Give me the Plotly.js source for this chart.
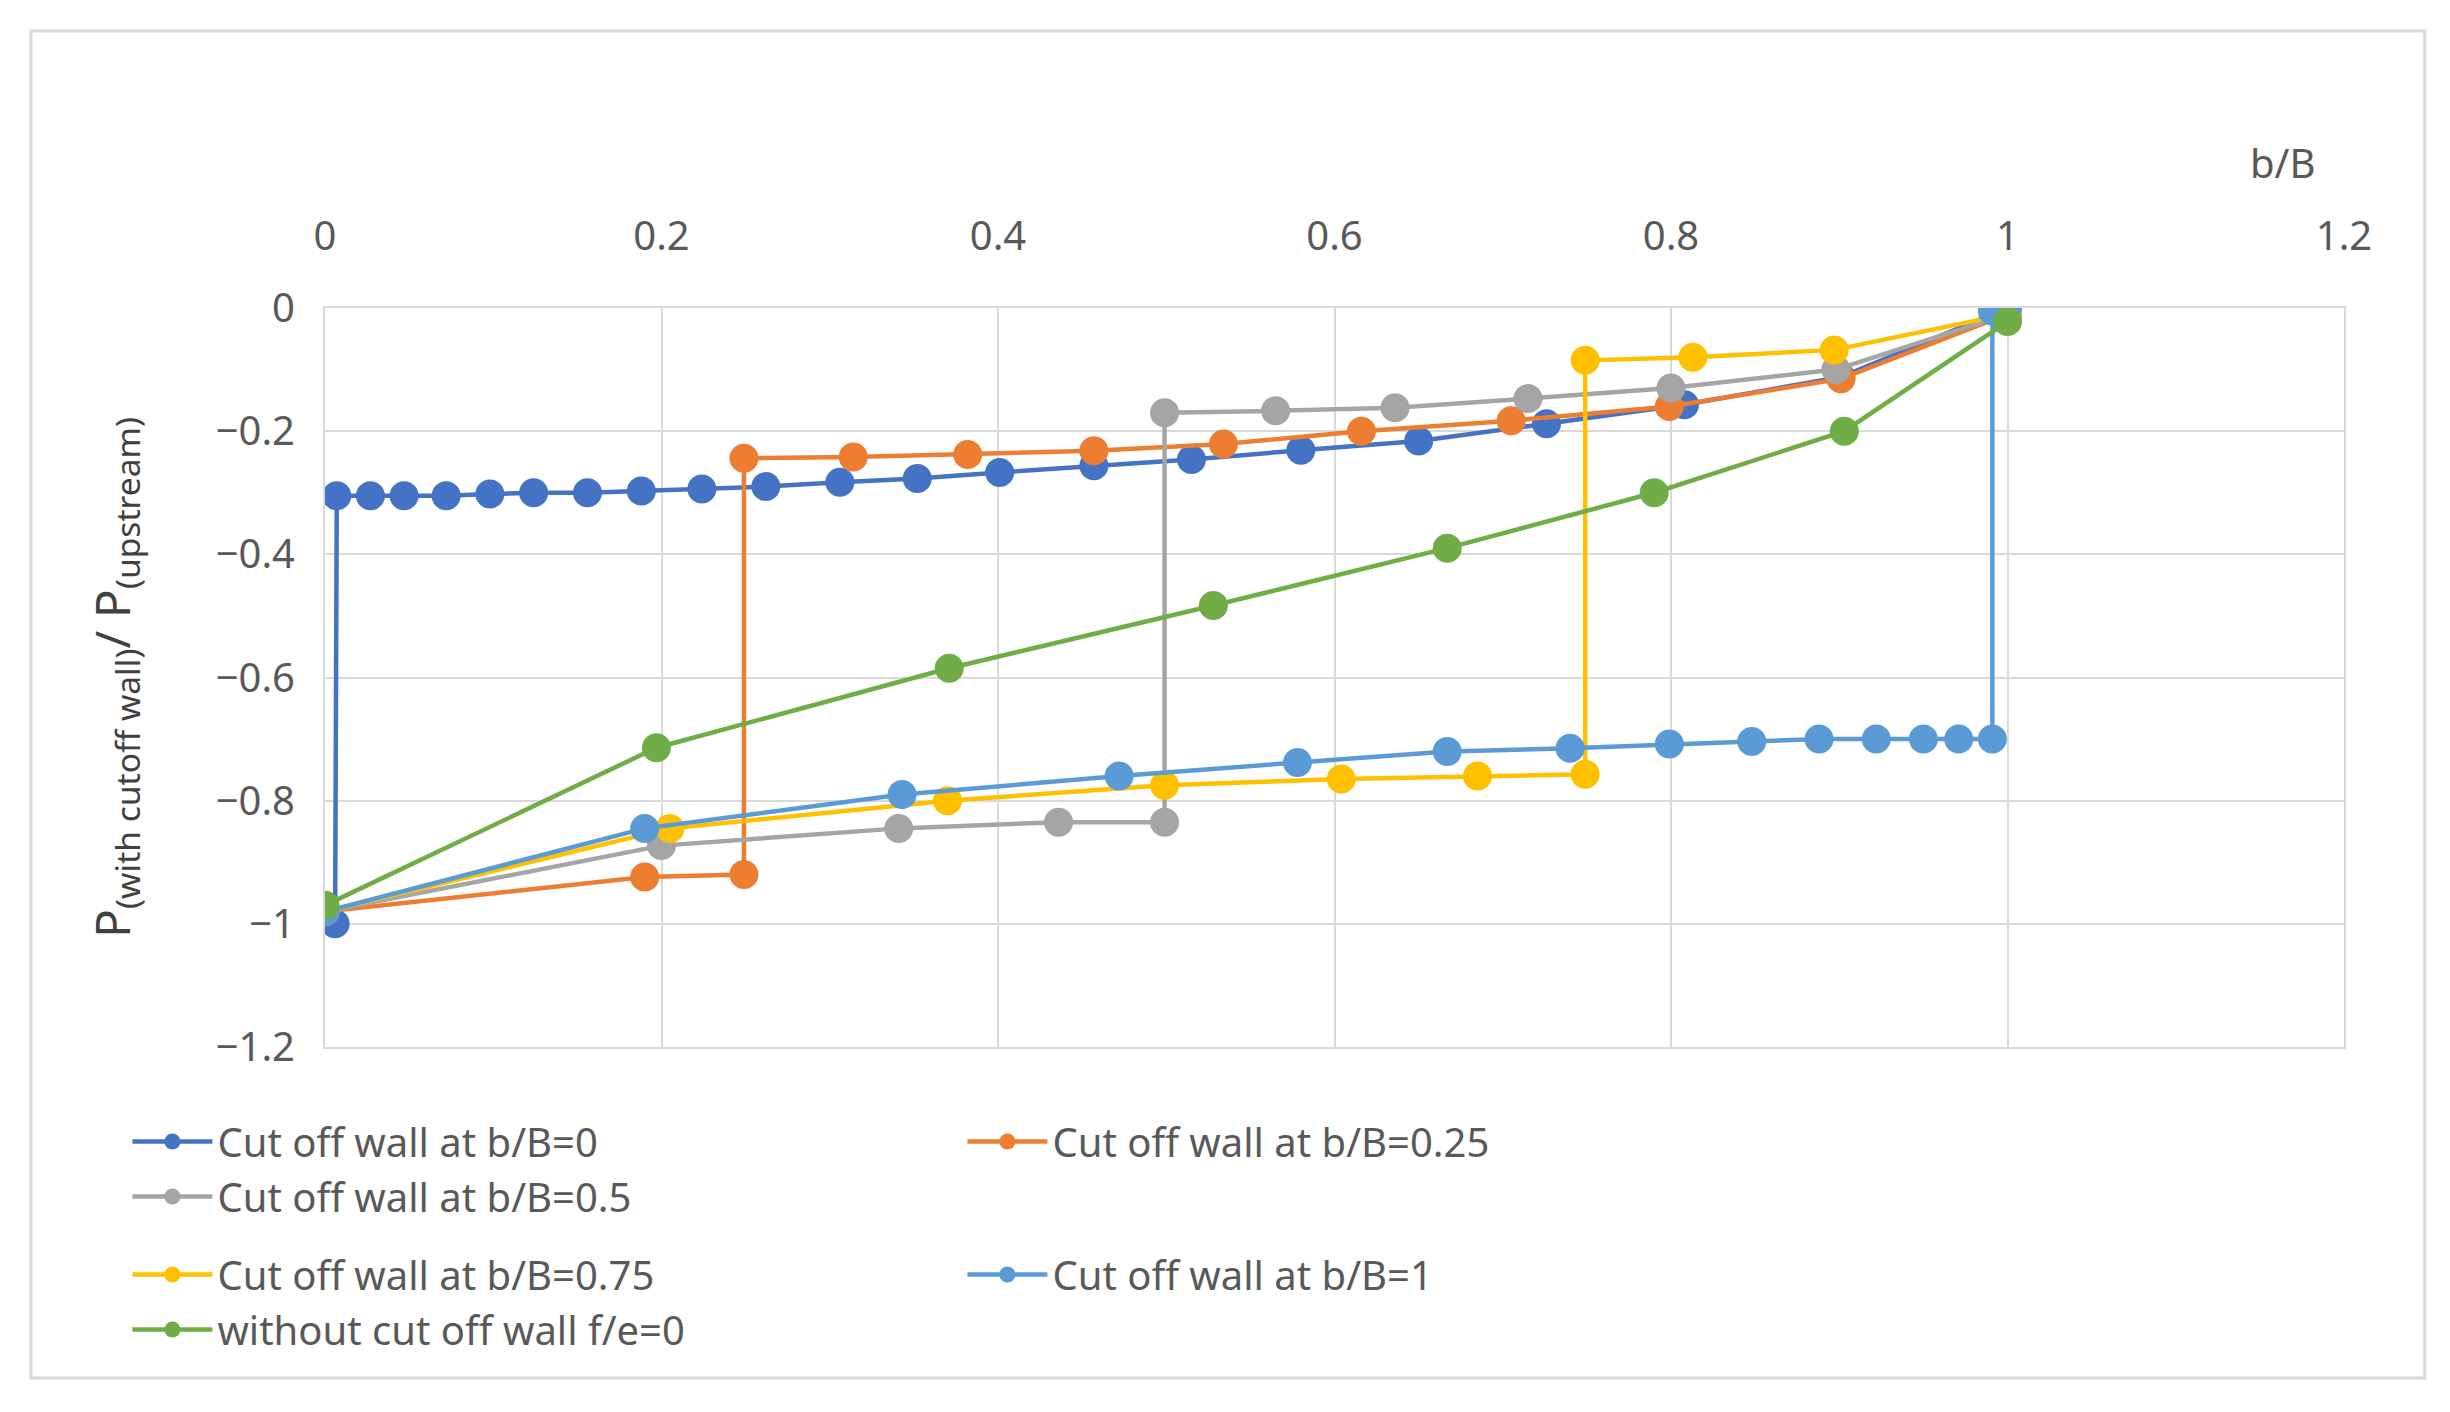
<!DOCTYPE html>
<html>
<head>
<meta charset="utf-8">
<script src="https://cdn.plot.ly/plotly-3.0.1.min.js"></script>
<style>body{margin:0;background:#fff}#chart{width:2450px;height:1412px}</style>
</head>
<body>
<div id="chart"></div>
<script>
// series values
const names = ["Cut off wall at b/B=0", "Cut off wall at b/B=0.25", "Cut off wall at b/B=0.5",
               "Cut off wall at b/B=0.75", "Cut off wall at b/B=1", "without cut off wall f/e=0"];
const colors = ["#4472C4", "#ED7D31", "#A5A5A5", "#FFC000", "#5B9BD5", "#70AD47"];

const x_b0 = [0.006, 0.007, 0.027, 0.047, 0.072, 0.098, 0.124, 0.156, 0.188, 0.224, 0.262, 0.306, 0.352, 0.401, 0.457, 0.515, 0.580, 0.650, 0.726, 0.808, 0.901, 1.0];
const y_b0 = [-1.0, -0.305, -0.305, -0.305, -0.305, -0.302, -0.300, -0.300, -0.297, -0.294, -0.29, -0.283, -0.277, -0.267, -0.256, -0.246, -0.231, -0.216, -0.188, -0.157, -0.112, 0.0];
const x_b25 = [0, 0.19, 0.249, 0.249, 0.314, 0.382, 0.457, 0.534, 0.616, 0.705, 0.799, 0.901, 1.0];
const y_b25 = [-0.98, -0.924, -0.92, -0.244, -0.242, -0.238, -0.232, -0.221, -0.20, -0.183, -0.16, -0.115, -0.01];
const x_b50 = [0, 0.2, 0.341, 0.436, 0.499, 0.499, 0.565, 0.636, 0.715, 0.8, 0.898, 1.0];
const y_b50 = [-0.98, -0.873, -0.845, -0.835, -0.835, -0.17, -0.167, -0.162, -0.147, -0.13, -0.10, -0.01];
const x_b75 = [0, 0.205, 0.37, 0.499, 0.604, 0.685, 0.749, 0.749, 0.813, 0.897, 1.0];
const y_b75 = [-0.98, -0.845, -0.80, -0.775, -0.765, -0.76, -0.757, -0.085, -0.08, -0.068, -0.01];
const x_b100 = [0, 0.19, 0.343, 0.472, 0.578, 0.667, 0.74, 0.799, 0.848, 0.888, 0.922, 0.95, 0.971, 0.991, 0.991, 1.0];
const y_b100 = [-0.98, -0.845, -0.79, -0.76, -0.738, -0.72, -0.715, -0.708, -0.704, -0.70, -0.70, -0.70, -0.70, -0.70, -0.005, 0.0];
const x_none = [0, 0.197, 0.371, 0.528, 0.667, 0.79, 0.903, 1.0];
const y_none = [-0.97, -0.714, -0.585, -0.483, -0.390, -0.300, -0.200, -0.022];

const xs = [x_b0, x_b25, x_b50, x_b75, x_b100, x_none];
const ys = [y_b0, y_b25, y_b50, y_b75, y_b100, y_none];

let data = names.map((n, i) => ({
    x: xs[i], y: ys[i], name: n, type: "scatter", mode: "lines+markers",
    legend: i < 3 ? "legend" : "legend2",
    line: {color: colors[i], width: 4.5},
    marker: {color: colors[i], size: 29}
}));

let fam = "Noto Sans, Open Sans, sans-serif";
let font = {family: fam, size: 40, color: "#595959"};
let legendFont = {family: fam, size: 40, color: "#595959"};
function legendRow(y) {
    return {orientation: "h", xref: "container", yref: "container", x: 0.052, y: y, xanchor: "left", yanchor: "middle",
            entrywidth: 740, entrywidthmode: "pixels", font: legendFont, itemwidth: 80};
}
let layout = {
    width: 2450, height: 1412,
    margin: {l: 325, r: 106, t: 308, b: 365},
    font: font,
    paper_bgcolor: "#fff", plot_bgcolor: "#fff",
    xaxis: {side: "top", range: [0, 1.2], dtick: 0.2, showgrid: true, gridcolor: "#D9D9D9", gridwidth: 2,
            zeroline: false, showline: true, linecolor: "#D9D9D9", linewidth: 2, mirror: true, ticks: "",
            tickfont: font, ticklabelstandoff: 40},
    yaxis: {range: [-1.2, 0], dtick: 0.2, showgrid: true, gridcolor: "#D9D9D9", gridwidth: 2,
            zeroline: false, showline: true, linecolor: "#D9D9D9", linewidth: 2, mirror: true, ticks: "",
            tickfont: font, ticklabelstandoff: 20,
            title: {text: "P<sub>(with cutoff wall)</sub>/ P<sub>(upstream)</sub>", font: {family: fam, size: 48, color: "#404040"}, standoff: 70}},
    legend: legendRow(1 - 1169 / 1412),
    legend2: legendRow(1 - 1302 / 1412),
    annotations: [{text: "b/B", xref: "paper", yref: "paper", x: (2317 - 325) / 2019, y: (1047 - 133) / 739,
                   showarrow: false, font: {family: fam, size: 40, color: "#595959"}}],
    shapes: [{type: "rect", xref: "paper", yref: "paper", x0: -0.1456, x1: 1.040, y0: -0.448, y1: 1.375,
              line: {color: "#D9D9D9", width: 3}}]
};
Plotly.newPlot("chart", data, layout, {staticPlot: true});
</script>
</body>
</html>
